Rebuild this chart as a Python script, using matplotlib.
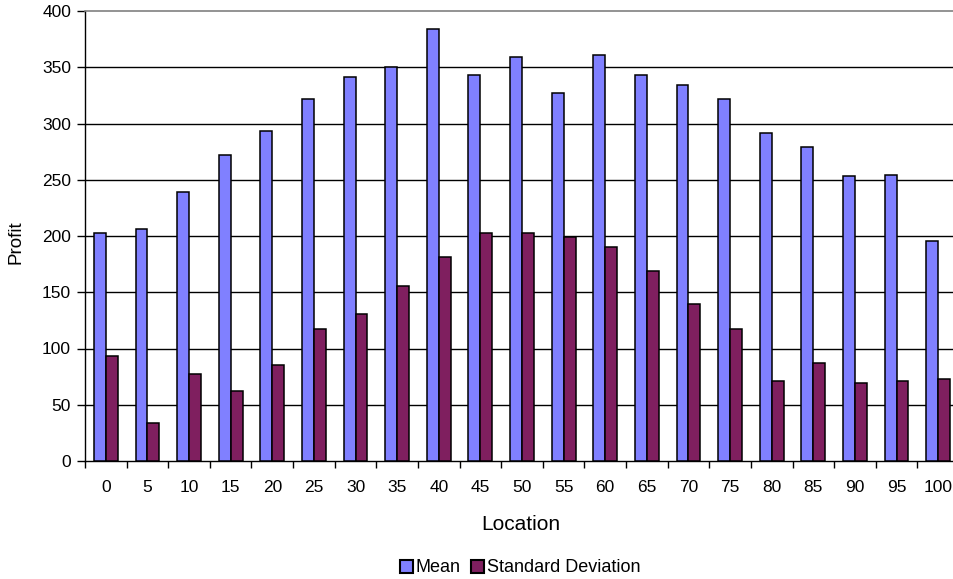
import numpy as np
import matplotlib.pyplot as plt
from matplotlib.patches import Patch

plt.rcParams['font.family'] = ['Liberation Sans', 'DejaVu Sans']

locations = [0, 5, 10, 15, 20, 25, 30, 35, 40, 45, 50, 55, 60, 65, 70, 75, 80, 85, 90, 95, 100]
mean_profit = [203, 206, 239, 272, 293, 322, 341, 350, 384, 343, 359, 327, 361, 343, 334, 322, 292, 279, 253, 254, 196]
std_profit = [93, 34, 77, 62, 85, 117, 131, 156, 181, 203, 203, 199, 190, 169, 140, 117, 71, 87, 69, 71, 73]

mean_color = '#8080FF'
std_color = '#7F1F5F'

W, H = 954, 579
fig = plt.figure(figsize=(W / 100, H / 100), dpi=100)
ax = fig.add_axes([85 / W, 118 / H, 874 / W, 450 / H])

x = np.arange(len(locations))
w = 1 / 3.5
ax.bar(x - w / 2, mean_profit, width=w, color=mean_color, edgecolor='black', linewidth=1.1, zorder=3)
ax.bar(x + w / 2, std_profit, width=w, color=std_color, edgecolor='black', linewidth=1.1, zorder=3)

ax.set_xlim(-0.5, len(locations) - 0.5)
ax.set_ylim(0, 400)
ax.set_yticks(np.arange(0, 401, 50))
ax.set_xticks(x)
ax.set_xticklabels([str(v) for v in locations])
ax.set_xticks(np.arange(-0.5, len(locations), 1), minor=True)
ax.tick_params(axis='x', which='major', length=0, pad=13.5, labelsize=12.5)
ax.tick_params(axis='x', which='minor', length=5, width=1, direction='out')
ax.tick_params(axis='y', length=6, width=1, direction='out', pad=4, labelsize=12.5)

# horizontal gridlines except the top one, which is the grey frame
for v in range(50, 400, 50):
    ax.axhline(v, color='black', linewidth=1.0, zorder=1)

ax.spines['right'].set_visible(False)
ax.spines['top'].set_color('#808080')
ax.spines['top'].set_linewidth(1.2)
ax.spines['left'].set_linewidth(1.0)
ax.spines['bottom'].set_linewidth(1.0)

ax.set_xlabel('Location', fontsize=15)
ax.xaxis.label.set_va('center')
ax.xaxis.set_label_coords((521 - 85) / 874, (461 - 524) / 450)
ax.set_ylabel('Profit', fontsize=13.5)
ax.yaxis.label.set_va('center')
ax.yaxis.set_label_coords((16 - 85) / 874, (461 - 242) / 450)

handles = [Patch(facecolor=mean_color, edgecolor='black', linewidth=1.5, label='Mean'),
           Patch(facecolor=std_color, edgecolor='black', linewidth=1.5, label='Standard Deviation')]
fig.legend(handles=handles, loc='center', bbox_to_anchor=(520 / W, 1 - 568 / H),
           ncol=2, frameon=False, fontsize=13, handlelength=0.72, handleheight=0.72,
           handletextpad=0.15, columnspacing=0.6, borderpad=0, borderaxespad=0)

fig.savefig('out.png', dpi=100)
